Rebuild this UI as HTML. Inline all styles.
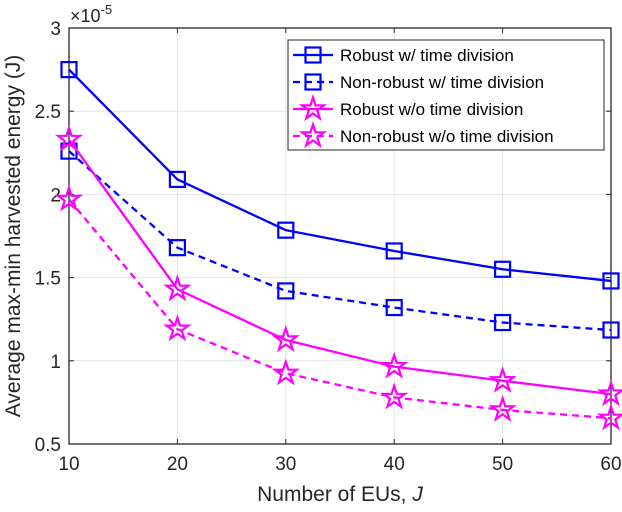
<!DOCTYPE html>
<html><head><meta charset="utf-8"><style>
body{margin:0;background:#fff;}
svg{display:block;font-family:"Liberation Sans",sans-serif;}
</style></head><body>
<svg id="chart" width="622" height="512"></svg>
<script>
const categories=[10,20,30,40,50,60];
const robustTD=[2.75,2.09,1.785,1.66,1.55,1.48];
const nonRobustTD=[2.26,1.68,1.42,1.32,1.23,1.185];
const robustNoTD=[2.33,1.43,1.125,0.965,0.88,0.80];
const nonRobustNoTD=[1.97,1.19,0.925,0.78,0.705,0.655];
const yTicks=[0.5,1,1.5,2,2.5,3];
const yTickLabels=["0.5","1","1.5","2","2.5","3"];
const xTicks=[10,20,30,40,50,60];
const seriesNames=["Robust w/ time division","Non-robust w/ time division","Robust w/o time division","Non-robust w/o time division"];

const L=69,R=611,T=28,B=444;
const xs=v=>L+(v-10)/50*(R-L);
const ys=v=>B-(v-0.5)/2.5*(B-T);
const svg=document.getElementById('chart');
const NS='http://www.w3.org/2000/svg';
function mk(tag,attrs,parent){const e=document.createElementNS(NS,tag);for(const k in attrs)e.setAttribute(k,attrs[k]);(parent||svg).appendChild(e);return e;}

yTicks.forEach((t,i)=>{
  const g=mk('line',{x1:L,x2:R,y1:ys(t),y2:ys(t),stroke:'#e3e3e3','stroke-width':1});
  
  
  const tx=mk('text',{x:L-8,y:ys(t)+7,'text-anchor':'end','font-size':19,fill:'#262626'});
  tx.textContent=yTickLabels[i];
  
  
  mk('line',{x1:L,x2:L+5,y1:ys(t),y2:ys(t),stroke:'#262626'});
  mk('line',{x1:R,x2:R-5,y1:ys(t),y2:ys(t),stroke:'#262626'});
});
xTicks.forEach(t=>{
  const g=mk('line',{x1:xs(t),x2:xs(t),y1:T,y2:B,stroke:'#e3e3e3','stroke-width':1});
  
  
  const tx=mk('text',{x:xs(t),y:B+26,'text-anchor':'middle','font-size':19,fill:'#262626'});
  tx.textContent=String(t);
  
  
  mk('line',{x1:xs(t),x2:xs(t),y1:B,y2:B-5,stroke:'#262626'});
  mk('line',{x1:xs(t),x2:xs(t),y1:T,y2:T+5,stroke:'#262626'});
});
const frame=mk('rect',{x:L,y:T,width:R-L,height:B-T,fill:'none',stroke:'#262626','stroke-width':1.3});



const ex=mk('text',{x:70,y:22,'font-size':18,fill:'#262626'});
ex.innerHTML='×10<tspan dy="-8" font-size="13">-5</tspan>';



const xt=mk('text',{x:(L+R)/2,y:501,'text-anchor':'middle','font-size':21,fill:'#262626'});
xt.innerHTML='Number of EUs, <tspan font-style="italic">J</tspan>';


const yt=mk('text',{x:0,y:0,'text-anchor':'middle','font-size':21,fill:'#262626',transform:`translate(20,${(T+B)/2}) rotate(-90)`});
yt.textContent='Average max-min harvested energy (J)';



function square(x,y,c,p){mk('rect',{x:x-7.5,y:y-7.5,width:15,height:15,fill:'none',stroke:c,'stroke-width':2.2},p);}
function star(x,y,c,p){let pts=[];for(let i=0;i<10;i++){const r=i%2?4.5:11.5;const a=-Math.PI/2+i*Math.PI/5;pts.push((x+r*Math.cos(a)).toFixed(1)+','+(y+r*Math.sin(a)).toFixed(1));}mk('polygon',{points:pts.join(' '),fill:'none',stroke:c,'stroke-width':2.2},p);}

const series=[[robustTD,'#0000ff','',square],[nonRobustTD,'#0000ff','7,5',square],[robustNoTD,'#ff00ff','',star],[nonRobustNoTD,'#ff00ff','7,5',star]];
series.forEach((s,si)=>{
  const g=mk('g',{});
  
  
  const d=s[0].map((v,i)=>(i?'L':'M')+xs(categories[i])+','+ys(v)).join(' ');
  mk('path',{d:d,fill:'none',stroke:s[1],'stroke-width':2.3,'stroke-dasharray':s[2]||'none'},g);
  s[0].forEach((v,i)=>s[3](xs(categories[i]),ys(v),s[1],g));
});

const lg=mk('g',{});


mk('rect',{x:288,y:40,width:316,height:110,fill:'#fff',stroke:'#262626','stroke-width':1},lg);
series.forEach((s,i)=>{
  const y=55+i*27;
  const e=mk('g',{},lg);
  
  
  mk('line',{x1:293,x2:333,y1:y,y2:y,stroke:s[1],'stroke-width':2.3,'stroke-dasharray':s[2]||'none'},e);
  s[3](313,y,s[1],e);
  const t=mk('text',{x:340,y:y+6,'font-size':17,fill:'#000'},e);
  t.textContent=seriesNames[i];
});
</script>
</body></html>
